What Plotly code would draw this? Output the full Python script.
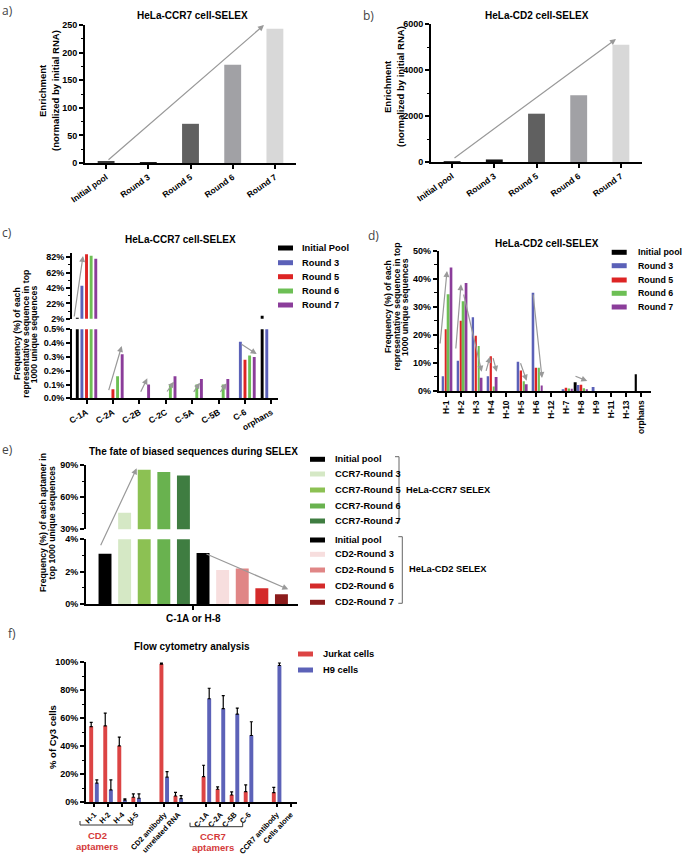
import plotly.graph_objects as go

W, H = 685, 858
def X(px): return px / W
def Y(py): return 1 - py / H

FONT = "Liberation Sans, Arial, sans-serif"

# ---------------- data ----------------
a_categories = ["Initial pool", "Round 3", "Round 5", "Round 6", "Round 7"]
a_values = [2, 0.6, 71, 178, 243]
a_colors = ["#3c3c3c", "#1e1e1e", "#606060", "#a1a1a5", "#d8d8d8"]

b_categories = ["Initial pool", "Round 3", "Round 5", "Round 6", "Round 7"]
b_values = [15, 110, 2100, 2900, 5100]
b_colors = ["#3c3c3c", "#111111", "#606060", "#a1a1a5", "#d8d8d8"]

series_names_c = ["Initial Pool", "Round 3", "Round 5", "Round 6", "Round 7"]
series_names_d = ["Initial pool", "Round 3", "Round 5", "Round 6", "Round 7"]
series_colors = ["#000000", "#5b61b8", "#dd2424", "#6dbf55", "#8b3d9a"]

c_categories = ["C-1A", "C-2A", "C-2B", "C-2C", "C-5A", "C-5B", "C-6", "orphans"]
c_initial = [3.1, None, None, None, None, None, None, 6.0]
c_round3 = [45, None, None, None, None, None, 0.41, 1.0]
c_round5 = [86, 0.065, None, None, None, None, 0.28, None]
c_round6 = [84, 0.16, None, 0.10, 0.10, 0.10, 0.31, None]
c_round7 = [80, 0.32, 0.10, 0.16, 0.14, 0.14, 0.30, None]

d_categories = ["H-1", "H-2", "H-3", "H-4", "H-10", "H-5", "H-6", "H-12",
                "H-7", "H-8", "H-9", "H-11", "H-13", "orphans"]
d_initial = [None, None, None, None, None, None, None, None, None, 3.1, None, None, None, 6.0]
d_round3 = [5.3, 10.8, 26.3, 5.3, None, 10.4, 35.0, None, 0.6, 2.1, 1.4, None, None, None]
d_round5 = [22.0, 25.0, 19.7, 12.4, None, 7.3, 8.3, None, 1.2, 2.2, None, None, None, None]
d_round6 = [34.5, 32.0, 16.0, 1.6, None, 3.5, 8.3, None, 0.9, 0.95, None, None, None, None]
d_round7 = [44.0, 38.5, 4.7, 5.0, None, 2.4, 2.0, None, 0.8, 0.6, None, None, None, None]

e_labels = ["Initial pool", "CCR7-Round 3", "CCR7-Round 5", "CCR7-Round 6", "CCR7-Round 7",
            "Initial pool", "CD2-Round 3", "CD2-Round 5", "CD2-Round 6", "CD2-Round 7"]
e_values = [3.1, 45.5, 85.5, 83.5, 80.3, 3.15, 2.1, 2.2, 0.97, 0.6]
e_colors = ["#000000", "#d5e8c5", "#8cc153", "#69b24f", "#3f7d41",
            "#000000", "#f7dede", "#e08686", "#d42a2a", "#8c1c1c"]
e_tick = "C-1A or H-8"

f_categories = ["H-1", "H-2", "H-4", "H-5", "CD2 antibody", "unrelated RNA",
                "C-1A", "C-2A", "C-5B", "C-6", "CCR7 antibody", "Cells alone"]
f_jurkat = [54.0, 54.5, 40.2, 3.6, 98.5, 4.5, 18.3, 9.3, 5.2, 7.6, 6.9, None]
f_jurkat_err = [3.0, 9.0, 6.2, 2.4, 0.8, 2.6, 8.1, 1.7, 2.2, 4.8, 3.8, 0]
f_h9 = [13.6, 8.8, 1.5, 2.9, 17.9, 2.6, 73.8, 66.7, 62.9, 47.6, 97.5, None]
f_h9_err = [2.4, 7.2, 0.9, 3.1, 4.0, 2.2, 7.5, 9.3, 4.2, 9.8, 1.8, 0]
f_series = ["Jurkat cells", "H9 cells"]
f_colors = ["#dc4444", "#5c62b8"]
f_gap_after = ["H-5", "unrelated RNA", "C-6"]

# ---------------- helpers ----------------
TICKFONT = dict(family=FONT, size=9, color="black")
XTICKFONT = dict(family=FONT, size=8.5, color="black")

def bt(vals, suffix="", fmt=lambda v: str(v)):
    return dict(tickvals=list(vals), ticktext=[f"<b>{fmt(v)}{suffix}</b>" for v in vals])

def ax_style(**kw):
    d = dict(showline=True, linecolor="black", linewidth=2, ticks="outside", ticklen=4,
             tickwidth=1.5, tickcolor="black", showgrid=False, zeroline=False,
             tickfont=TICKFONT, fixedrange=True, automargin=False)
    d.update(kw)
    return d

def minor(dt, t0=0):
    return dict(tick0=t0, dtick=dt, ticks="outside", ticklen=2.5, tickwidth=1.2, tickcolor="black")

fig = go.Figure()
layout = dict(width=W, height=H, margin=dict(l=0, r=0, t=0, b=0, autoexpand=False), showlegend=False,
              paper_bgcolor="white", plot_bgcolor="white", font=dict(family=FONT))

# ---- panel a ----
fig.add_trace(go.Bar(x=a_categories, y=a_values, marker_color=a_colors, width=0.4,
                     marker_line_width=0, xaxis="x", yaxis="y"))
layout["xaxis"] = ax_style(domain=[X(85), X(296)], anchor="y", type="category",
                           range=[-0.5, 4.5], tickangle=-35, tickfont=XTICKFONT, **bt(a_categories))
layout["yaxis"] = ax_style(domain=[Y(163), Y(25)], anchor="x", range=[0, 250],
                           minor=minor(25), **bt(range(0, 251, 50)))

# ---- panel b ----
fig.add_trace(go.Bar(x=b_categories, y=b_values, marker_color=b_colors, width=0.4,
                     marker_line_width=0, xaxis="x2", yaxis="y2"))
layout["xaxis2"] = ax_style(domain=[X(431), X(642)], anchor="y2", type="category",
                            range=[-0.5, 4.5], tickangle=-35, tickfont=XTICKFONT, **bt(b_categories))
layout["yaxis2"] = ax_style(domain=[Y(162), Y(24)], anchor="x2", range=[0, 6000],
                            minor=minor(1000), **bt(range(0, 6001, 2000)))

# ---- panel c (broken axis) ----
c_series = [c_initial, c_round3, c_round5, c_round6, c_round7]
slot_c, w_c = 0.175, 0.11
for i, vals in enumerate(c_series):
    off = (i - 2) * slot_c - w_c / 2
    for xa, ya in (("x3", "y3"), ("x4", "y4")):
        fig.add_trace(go.Bar(x=c_categories, y=vals, offset=off, width=w_c,
                             marker_color=series_colors[i], marker_line_width=0,
                             name=series_names_c[i], xaxis=xa, yaxis=ya))
layout["xaxis3"] = ax_style(domain=[X(72), X(278)], anchor="y3", type="category",
                            range=[-0.55, 7.25], tickangle=-30, tickfont=XTICKFONT, **bt(c_categories))
layout["yaxis3"] = ax_style(domain=[Y(398.3), Y(329.3)], anchor="x3", range=[0, 0.5],
                            **bt([0, 0.1, 0.2, 0.3, 0.4, 0.5], "%", lambda v: f"{v:.1f}"))
layout["xaxis4"] = dict(domain=[X(72), X(278)], anchor="y4", type="category", automargin=False,
                        range=[-0.55, 7.25], matches="x3", visible=False, fixedrange=True)
layout["yaxis4"] = ax_style(domain=[Y(318.7), Y(252.7)], anchor="x4", range=[2, 88],
                            minor=minor(10, 2), **bt([2, 22, 42, 62, 82], "%"))

# ---- panel d ----
d_series = [d_initial, d_round3, d_round5, d_round6, d_round7]
slot_d, w_d = 0.186, 0.13
for i, vals in enumerate(d_series):
    off = (i - 2) * slot_d - w_d / 2
    fig.add_trace(go.Bar(x=d_categories, y=vals, offset=off, width=w_d,
                         marker_color=series_colors[i], marker_line_width=0,
                         name=series_names_d[i], xaxis="x5", yaxis="y5"))
layout["xaxis5"] = ax_style(domain=[X(438.7), X(650.5)], anchor="y5", type="category",
                            range=[-0.47, 13.6], tickangle=-90, tickfont=XTICKFONT, **bt(d_categories))
layout["yaxis5"] = ax_style(domain=[Y(391), Y(250.7)], anchor="x5", range=[0, 50],
                            minor=minor(5), **bt(range(0, 51, 10), "%"))

# ---- panel e (broken axis) ----
e_pos = list(range(len(e_values)))
for xa, ya in (("x6", "y6"), ("x7", "y7")):
    fig.add_trace(go.Bar(x=e_pos, y=e_values, marker_color=e_colors, width=0.66,
                         marker_line_width=0, customdata=e_labels, xaxis=xa, yaxis=ya))
e_center = (len(e_values) - 1) / 2
layout["xaxis6"] = ax_style(domain=[X(86), X(298.3)], anchor="y6", range=[-0.97, 9.86],
                            tickvals=[e_center], ticktext=[f"<b>{e_tick}</b>"],
                            tickfont=dict(family=FONT, size=10, color="black"))
layout["yaxis6"] = ax_style(domain=[Y(604), Y(539.3)], anchor="x6", range=[0, 4],
                            minor=minor(1), **bt([0, 2, 4], "%"))
layout["xaxis7"] = dict(domain=[X(86), X(298.3)], anchor="y7", range=[-0.97, 9.86], automargin=False,
                        matches="x6", visible=False, fixedrange=True)
layout["yaxis7"] = ax_style(domain=[Y(529.3), Y(465)], anchor="x7", range=[30, 90],
                            minor=minor(15), **bt([30, 60, 90], "%"))

# ---- panel f ----
f_axis_order = []
for c in f_categories:
    f_axis_order.append(c)
    if c in f_gap_after:
        f_axis_order.append(" " * (f_gap_after.index(c) + 1))
for vals, errs, col, off, name in ((f_jurkat, f_jurkat_err, f_colors[0], -0.34, f_series[0]),
                                    (f_h9, f_h9_err, f_colors[1], 0.06, f_series[1])):
    fig.add_trace(go.Bar(x=f_categories, y=vals, offset=off, width=0.28, marker_color=col,
                         marker_line_width=0, name=name, xaxis="x8", yaxis="y8",
                         error_y=dict(type="data", symmetric=False, array=errs,
                                      arrayminus=[0] * len(errs), color="black",
                                      thickness=1.2, width=1.5)))
layout["xaxis8"] = ax_style(domain=[X(86), X(296.7)], anchor="y8", type="category",
                            categoryorder="array", categoryarray=f_axis_order,
                            range=[-0.57, 14.43], tickangle=-47, ticklen=3,
                            tickfont=dict(family=FONT, size=7.5, color="black"), **bt(f_categories))
layout["yaxis8"] = ax_style(domain=[Y(802.3), Y(662)], anchor="x8", range=[0, 100],
                            minor=minor(10), **bt(range(0, 101, 20), "%"))

# ---------------- annotations & shapes ----------------
ann = []
shapes = []

def text(t, x, y, size=9, bold=True, color="black", angle=0, xanchor="center", family=FONT):
    ann.append(dict(text=(f"<b>{t}</b>" if bold else t), x=X(x), y=Y(y), xref="paper", yref="paper",
                    showarrow=False, xanchor=xanchor, yanchor="middle", textangle=angle,
                    font=dict(family=family, size=size, color=color)))

# panel letters
for lab, x, y in (("a)", 8, 10), ("b)", 368, 15), ("c)", 7, 233), ("d)", 373, 235),
                  ("e)", 7, 449), ("f)", 12, 633)):
    text(lab, x, y, size=12, bold=False, color="#444", family="Open Sans, sans-serif")

# titles
for t, x, y in (("HeLa-CCR7 cell-SELEX", 192, 15), ("HeLa-CD2 cell-SELEX", 537, 15),
                ("HeLa-CCR7 cell-SELEX", 180, 239), ("HeLa-CD2 cell-SELEX", 547, 243),
                ("The fate of biased sequences during SELEX", 193, 451),
                ("Flow cytometry analysis", 192, 646)):
    text(t, x, y, size=10)

# y-axis titles
for lines, xs, yc, sz in (
        (["Enrichment", "(normalized by initial RNA)"], [42, 55], 91, 9.5),
        (["Enrichment", "(normalized by initial RNA)"], [388, 401], 87, 9.5),
        (["Frequency (%) of each", "representative sequence in top", "1000 unique sequences"], [17, 25.7, 34.3], 334, 8.7),
        (["Frequency (%) of each", "representative sequence in top", "1000 unique sequences"], [388, 396.5, 405], 307, 8.7),
        (["Frequency (%) of each aptamer in", "top 1000 unique sequences"], [43, 51.5], 523, 8.7),
        (["% of Cy3 cells"], [52], 737, 9.5)):
    for ln, xx in zip(lines, xs):
        text(ln, xx, yc, size=sz, angle=-90)

# legends
def legend(labels, colors, sx, tx, ys, size=9.3):
    for lab, col, yy in zip(labels, colors, ys):
        shapes.append(dict(type="rect", xref="paper", yref="paper", x0=X(sx), x1=X(sx + 15),
                           y0=Y(yy + 2.5), y1=Y(yy - 2.5), fillcolor=col, line_width=0))
        text(lab, tx, yy, size=size, xanchor="left")

legend(series_names_c, series_colors, 278, 300, [248, 262.7, 276.7, 291, 305])
legend(series_names_d, series_colors, 611.7, 635.7, [252.3, 265.7, 280, 293.3, 307], size=8.8)
legend(e_labels, e_colors, 310, 333.3, [459.3, 474, 490, 506, 521, 540, 554.3, 570, 586, 602.3])
legend(f_series, f_colors, 298, 320.7, [654, 670])

# brackets for panel e legend
for xb, y0, y1, lab, ty in ((399, 456.7, 522.7, "HeLa-CCR7 SELEX", 490),
                            (402.3, 536.7, 603.3, "HeLa-CD2 SELEX", 569)):
    for (xa_, ya_, xb_, yb_) in ((xb, y0, xb, y1), (xb - 4, y0, xb, y0), (xb - 4, y1, xb, y1)):
        shapes.append(dict(type="line", xref="paper", yref="paper", x0=X(xa_), y0=Y(ya_),
                           x1=X(xb_), y1=Y(yb_), line=dict(color="#666", width=1)))
    text(lab, xb + 5, ty, size=9.3, xanchor="left")

# brackets under panel f
for x0, x1, yb, lab1, lab2, tx in ((80, 132.7, 825, "CD2", "aptamers", 97),
                                   (190, 242.7, 826.7, "CCR7", "aptamers", 213)):
    for (xa_, ya_, xb_, yb_) in ((x0, yb, x1, yb), (x0, yb, x0, yb - 4), (x1, yb, x1, yb - 4)):
        shapes.append(dict(type="line", xref="paper", yref="paper", x0=X(xa_), y0=Y(ya_),
                           x1=X(xb_), y1=Y(yb_), line=dict(color="#333", width=1)))
    text(lab1, tx, yb + 10, size=9.5, color="#d43a3a")
    text(lab2, tx, yb + 21, size=9.5, color="#d43a3a")

# trend arrows (decorative), tail -> head in pixels
arrows = [
    (107, 161, 264, 25), (453, 159, 616, 39),
    (74, 318, 83, 256), (108.3, 391.7, 121.7, 346), (140, 393.3, 147.3, 378.3),
    (166, 393, 174, 381.7), (192.7, 393.3, 200, 382.7), (219.3, 393.3, 226.7, 383.3),
    (240, 343.3, 256.7, 354),
    (440, 345, 447, 271), (455.7, 350, 461, 284.3), (463.3, 293, 481.7, 371.7),
    (485.7, 372.3, 490, 356.7), (492.7, 356.7, 496.7, 371.7), (520, 361.7, 526.7, 380.7),
    (533, 293, 542, 378), (574, 375.7, 587.3, 381),
    (100, 546.7, 136.7, 468.3), (205, 553.3, 288.3, 589.3),
]
for tx_, ty_, hx, hy in arrows:
    ann.append(dict(x=X(hx), y=Y(hy), xref="paper", yref="paper", ax=tx_ - hx, ay=ty_ - hy,
                    axref="pixel", ayref="pixel", text="", showarrow=True, arrowhead=2,
                    arrowsize=1, arrowwidth=1.2, arrowcolor="#999999", standoff=0))

layout["annotations"] = ann
layout["shapes"] = shapes
fig.update_layout(**layout)
fig.write_html(
    "out.html",
    config={"displayModeBar": False},
    post_script="document.body.style.margin='0px';",
)
